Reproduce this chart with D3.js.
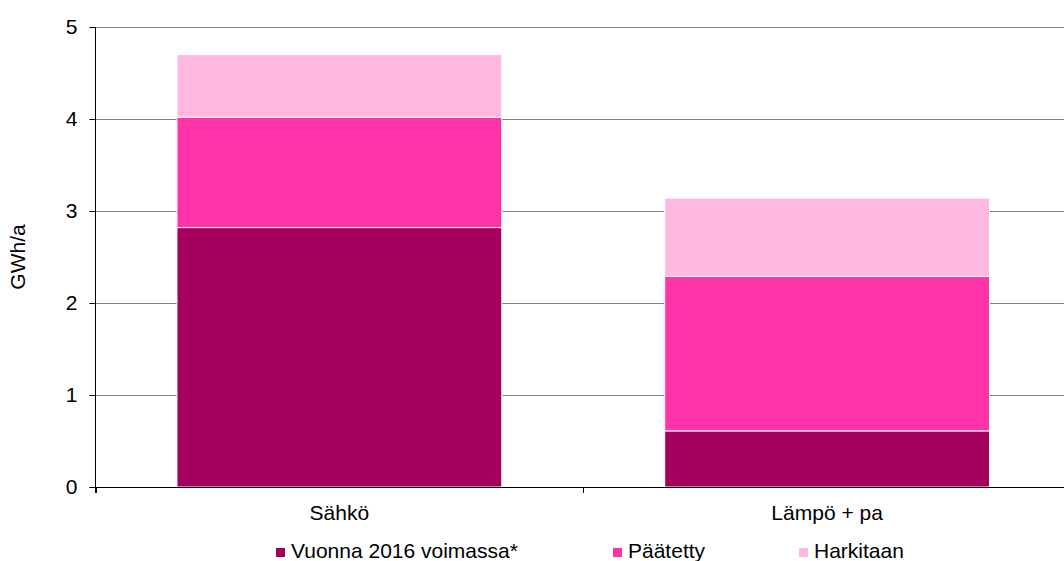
<!DOCTYPE html>
<html>
<head>
<meta charset="utf-8">
<script src="https://cdn.jsdelivr.net/npm/d3@7"></script>
<style>
  html, body { margin: 0; padding: 0; background: #fff; }
  svg { display: block; font-family: "Liberation Sans", Arial, sans-serif; }
</style>
</head>
<body>
<svg id="chart" width="1064" height="561"></svg>
<script>
const categories = ["Sähkö", "Lämpö + pa"];
const seriesNames = ["Vuonna 2016 voimassa*", "Päätetty", "Harkitaan"];
const vuonna2016 = [2.82, 0.61];
const paatetty = [1.20, 1.68];
const harkitaan = [0.68, 0.85];
const yTicks = [0, 1, 2, 3, 4, 5];
const yLabel = "GWh/a";
const colors = ["#A6005E", "#FF33A8", "#FFB9E0"];

(function () {
const svg = d3.select("#chart");
const pLeft = 95.5, pRight = 1071, pTop = 27, pBottom = 487;
const fs = 21;

const x = d3.scaleBand().domain(categories).range([pLeft, pRight]).paddingInner(0.334).paddingOuter(0.167);
const y = d3.scaleLinear().domain([0, 5]).range([pBottom, pTop]);

// gridlines
svg.append("g").selectAll("line").data(yTicks.filter(d => d > 0)).join("line")
  .attr("x1", pLeft).attr("x2", 1064)
  .attr("y1", d => Math.round(y(d)) + 0.5).attr("y2", d => Math.round(y(d)) + 0.5)
  .attr("stroke", "#000").attr("stroke-width", 1).attr("stroke-dasharray", "1,1");

// stacked data
const rows = categories.map((c, i) => ({cat: c, s0: vuonna2016[i], s1: paatetty[i], s2: harkitaan[i]}));
const stacked = d3.stack().keys(["s0", "s1", "s2"])(rows);

svg.append("g").selectAll("g").data(stacked).join("g")
  .attr("fill", (d, i) => colors[i])
  .selectAll("rect").data(d => d).join("rect")
  .attr("x", d => x(d.data.cat))
  .attr("width", x.bandwidth())
  .attr("y", d => y(d[1]))
  .attr("height", d => y(d[0]) - y(d[1]))
  .attr("stroke", "#fff").attr("stroke-width", 1);

// y axis
const yAxis = d3.axisLeft(y).tickValues(yTicks).tickSize(6).tickPadding(12).tickFormat(d3.format("d"));
const gy = svg.append("g").attr("transform", `translate(${pLeft},0)`).call(yAxis);
gy.select(".domain").remove();
gy.selectAll(".tick line").attr("stroke", "#000");
gy.selectAll(".tick text").attr("font-size", fs).attr("font-family", "Liberation Sans, Arial, sans-serif").attr("fill", "#000");
svg.append("line").attr("x1", pLeft).attr("x2", pLeft).attr("y1", pTop).attr("y2", pBottom + 6).attr("stroke", "#000");

// x axis
svg.append("line").attr("x1", pLeft - 6).attr("x2", 1064).attr("y1", pBottom + 0.5).attr("y2", pBottom + 0.5).attr("stroke", "#000");
const step = x.step();
const bounds = categories.map(c => x(c) - step * x.paddingInner() / 2)
  .concat([x(categories[categories.length - 1]) + x.bandwidth() + step * x.paddingInner() / 2]);
svg.append("g").selectAll("line").data(bounds).join("line")
  .attr("x1", d => Math.round(d) + 0.5).attr("x2", d => Math.round(d) + 0.5)
  .attr("y1", pBottom).attr("y2", pBottom + 6).attr("stroke", "#000");
svg.append("g").selectAll("text").data(categories).join("text")
  .attr("x", d => x(d) + x.bandwidth() / 2).attr("y", 520)
  .attr("text-anchor", "middle").attr("font-size", fs).attr("fill", "#000")
  .text(d => d);

// y label
svg.append("text").attr("transform", `translate(25,${(pTop + pBottom) / 2}) rotate(-90)`)
  .attr("text-anchor", "middle").attr("font-size", fs).attr("fill", "#000").text(yLabel);

// legend
const legendX = [276, 613, 799];
const lg = svg.append("g").selectAll("g").data(seriesNames).join("g")
  .attr("transform", (d, i) => `translate(${legendX[i]},548)`);
lg.append("rect").attr("width", 9).attr("height", 9).attr("fill", (d, i) => colors[i]);
lg.append("text").attr("x", 15).attr("y", 10).attr("font-size", fs).attr("fill", "#000").text(d => d);
})();
</script>
</body>
</html>
